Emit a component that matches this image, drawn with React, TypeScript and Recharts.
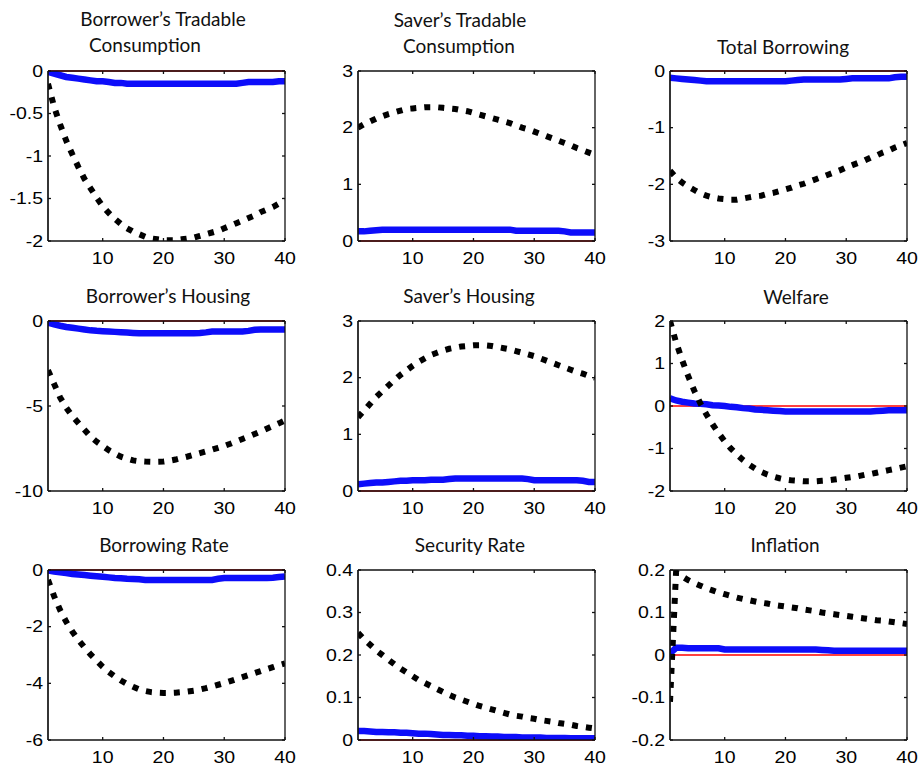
import React from 'react';
import { LineChart, Line, XAxis, YAxis, ReferenceLine } from 'recharts';

// ---------------- DATA ----------------
const periods = [
  1, 2, 3, 4, 5, 6, 7, 8, 9, 10,
  11, 12, 13, 14, 15, 16, 17, 18, 19, 20,
  21, 22, 23, 24, 25, 26, 27, 28, 29, 30,
  31, 32, 33, 34, 35, 36, 37, 38, 39, 40,
];
const xTicks = [10, 20, 30, 40];

// Borrower's Tradable Consumption
const btcSolid = [
  -0.01, -0.03, -0.05, -0.07, -0.08, -0.09, -0.10, -0.11, -0.12, -0.12,
  -0.13, -0.14, -0.14, -0.15, -0.15, -0.15, -0.15, -0.15, -0.15, -0.15,
  -0.15, -0.15, -0.15, -0.15, -0.15, -0.15, -0.15, -0.15, -0.15, -0.15,
  -0.15, -0.15, -0.14, -0.13, -0.13, -0.13, -0.13, -0.13, -0.12, -0.12,
];
const btcDotted = [
  -0.15, -0.42, -0.63, -0.82, -0.98, -1.13, -1.27, -1.38, -1.49, -1.59,
  -1.67, -1.74, -1.80, -1.85, -1.89, -1.92, -1.95, -1.97, -1.98, -1.99,
  -1.99, -1.99, -1.98, -1.97, -1.96, -1.94, -1.92, -1.90, -1.88, -1.85,
  -1.82, -1.79, -1.76, -1.73, -1.70, -1.66, -1.63, -1.60, -1.56, -1.52,
];
const btcTicks = [-2, -1.5, -1, -0.5, 0];

// Saver's Tradable Consumption
const stcSolid = [
  0.17, 0.17, 0.18, 0.19, 0.20, 0.20, 0.20, 0.20, 0.20, 0.20,
  0.20, 0.20, 0.20, 0.20, 0.20, 0.20, 0.20, 0.20, 0.20, 0.20,
  0.20, 0.20, 0.20, 0.20, 0.20, 0.20, 0.18, 0.18, 0.18, 0.18,
  0.18, 0.18, 0.18, 0.18, 0.17, 0.15, 0.15, 0.15, 0.15, 0.15,
];
const stcDotted = [
  2.00, 2.06, 2.11, 2.16, 2.20, 2.24, 2.27, 2.30, 2.33, 2.34,
  2.35, 2.36, 2.36, 2.36, 2.35, 2.34, 2.33, 2.31, 2.29, 2.26,
  2.23, 2.20, 2.17, 2.14, 2.11, 2.08, 2.04, 2.00, 1.97, 1.93,
  1.89, 1.85, 1.81, 1.77, 1.73, 1.69, 1.64, 1.60, 1.56, 1.52,
];
const stcTicks = [0, 1, 2, 3];

// Total Borrowing
const tbSolid = [
  -0.12, -0.13, -0.14, -0.15, -0.16, -0.17, -0.18, -0.18, -0.18, -0.18,
  -0.18, -0.18, -0.18, -0.18, -0.18, -0.18, -0.18, -0.18, -0.18, -0.18,
  -0.17, -0.16, -0.15, -0.15, -0.15, -0.15, -0.15, -0.15, -0.15, -0.14,
  -0.13, -0.13, -0.13, -0.13, -0.13, -0.13, -0.13, -0.11, -0.10, -0.10,
];
const tbDotted = [
  -1.76, -1.88, -1.97, -2.04, -2.10, -2.16, -2.20, -2.23, -2.25, -2.26,
  -2.27, -2.27, -2.25, -2.23, -2.21, -2.20, -2.17, -2.15, -2.12, -2.09,
  -2.06, -2.02, -1.99, -1.95, -1.91, -1.87, -1.83, -1.79, -1.75, -1.70,
  -1.66, -1.62, -1.58, -1.53, -1.49, -1.44, -1.40, -1.35, -1.31, -1.27,
];
const tbTicks = [-3, -2, -1, 0];

// Borrower's Housing
const bhSolid = [
  -0.10, -0.20, -0.28, -0.35, -0.40, -0.45, -0.50, -0.55, -0.58, -0.60,
  -0.62, -0.64, -0.66, -0.68, -0.70, -0.72, -0.72, -0.72, -0.72, -0.72,
  -0.72, -0.72, -0.72, -0.72, -0.72, -0.70, -0.67, -0.62, -0.62, -0.62,
  -0.62, -0.62, -0.62, -0.58, -0.52, -0.50, -0.50, -0.50, -0.50, -0.50,
];
const bhDotted = [
  -2.90, -3.70, -4.50, -5.10, -5.60, -6.00, -6.40, -6.80, -7.10, -7.35,
  -7.60, -7.80, -7.98, -8.10, -8.20, -8.25, -8.27, -8.28, -8.28, -8.27,
  -8.22, -8.15, -8.06, -7.97, -7.87, -7.77, -7.67, -7.57, -7.46, -7.35,
  -7.22, -7.08, -6.94, -6.80, -6.65, -6.50, -6.34, -6.18, -6.02, -5.85,
];
const bhTicks = [-10, -5, 0];

// Saver's Housing
const shSolid = [
  0.12, 0.13, 0.14, 0.15, 0.15, 0.16, 0.17, 0.18, 0.18, 0.19,
  0.19, 0.19, 0.20, 0.20, 0.20, 0.21, 0.22, 0.22, 0.22, 0.22,
  0.22, 0.22, 0.22, 0.22, 0.22, 0.22, 0.22, 0.22, 0.21, 0.19,
  0.19, 0.19, 0.19, 0.19, 0.19, 0.19, 0.19, 0.18, 0.16, 0.16,
];
const shDotted = [
  1.30, 1.42, 1.54, 1.66, 1.76, 1.86, 1.96, 2.05, 2.13, 2.21,
  2.28, 2.34, 2.40, 2.44, 2.48, 2.51, 2.53, 2.55, 2.56, 2.57,
  2.57, 2.57, 2.56, 2.54, 2.52, 2.50, 2.47, 2.44, 2.41, 2.38,
  2.34, 2.30, 2.26, 2.22, 2.18, 2.14, 2.10, 2.07, 2.03, 2.00,
];
const shTicks = [0, 1, 2, 3];

// Welfare
const wSolid = [
  0.18, 0.13, 0.10, 0.08, 0.06, 0.05, 0.04, 0.02, 0.01, 0.00,
  -0.02, -0.03, -0.05, -0.06, -0.08, -0.09, -0.10, -0.11, -0.12, -0.13,
  -0.13, -0.13, -0.13, -0.13, -0.13, -0.13, -0.13, -0.13, -0.13, -0.13,
  -0.13, -0.13, -0.13, -0.13, -0.12, -0.11, -0.10, -0.10, -0.10, -0.10,
];
const wDotted = [
  2.00, 1.50, 1.08, 0.70, 0.36, 0.06, -0.20, -0.43, -0.64, -0.83,
  -1.00, -1.14, -1.27, -1.38, -1.47, -1.55, -1.61, -1.66, -1.70, -1.73,
  -1.75, -1.76, -1.77, -1.77, -1.77, -1.76, -1.75, -1.73, -1.71, -1.69,
  -1.67, -1.65, -1.62, -1.60, -1.57, -1.54, -1.51, -1.48, -1.45, -1.42,
];
const wTicks = [-2, -1, 0, 1, 2];

// Borrowing Rate
const brSolid = [
  -0.02, -0.05, -0.08, -0.11, -0.14, -0.16, -0.18, -0.20, -0.22, -0.24,
  -0.26, -0.28, -0.29, -0.31, -0.32, -0.33, -0.35, -0.35, -0.35, -0.35,
  -0.35, -0.35, -0.35, -0.35, -0.35, -0.35, -0.35, -0.35, -0.31, -0.28,
  -0.28, -0.28, -0.28, -0.28, -0.28, -0.28, -0.28, -0.27, -0.25, -0.23,
];
const brDotted = [
  -0.35, -0.92, -1.42, -1.83, -2.17, -2.47, -2.73, -2.98, -3.20, -3.42,
  -3.60, -3.76, -3.90, -4.02, -4.12, -4.21, -4.27, -4.31, -4.33, -4.34,
  -4.34, -4.33, -4.31, -4.29, -4.26, -4.22, -4.17, -4.11, -4.05, -3.99,
  -3.92, -3.85, -3.78, -3.71, -3.64, -3.57, -3.50, -3.43, -3.36, -3.30,
];
const brTicks = [-6, -4, -2, 0];

// Security Rate
const srSolid = [
  0.021, 0.021, 0.020, 0.019, 0.019, 0.018, 0.018, 0.017, 0.017, 0.016,
  0.015, 0.015, 0.014, 0.013, 0.012, 0.012, 0.011, 0.011, 0.010, 0.010,
  0.009, 0.009, 0.008, 0.008, 0.007, 0.007, 0.007, 0.006, 0.006, 0.006,
  0.006, 0.005, 0.005, 0.005, 0.005, 0.004, 0.004, 0.004, 0.004, 0.004,
];
const srDotted = [
  0.252, 0.237, 0.224, 0.211, 0.200, 0.189, 0.178, 0.168, 0.159, 0.150,
  0.141, 0.134, 0.127, 0.120, 0.113, 0.106, 0.100, 0.095, 0.090, 0.085,
  0.080, 0.076, 0.072, 0.068, 0.064, 0.060, 0.057, 0.055, 0.052, 0.050,
  0.047, 0.045, 0.043, 0.040, 0.038, 0.036, 0.033, 0.031, 0.029, 0.027,
];
const srTicks = [0, 0.1, 0.2, 0.3, 0.4];

// Inflation
const infSolid = [
  0.004, 0.017, 0.017, 0.016, 0.016, 0.016, 0.016, 0.016, 0.016, 0.013,
  0.013, 0.013, 0.013, 0.013, 0.013, 0.013, 0.013, 0.013, 0.013, 0.013,
  0.013, 0.013, 0.013, 0.013, 0.013, 0.012, 0.011, 0.010, 0.010, 0.010,
  0.010, 0.010, 0.010, 0.010, 0.010, 0.010, 0.010, 0.010, 0.010, 0.010,
];
const infDotted = [
  -0.110, 0.195, 0.185, 0.176, 0.169, 0.163, 0.157, 0.152, 0.147, 0.143,
  0.139, 0.135, 0.132, 0.129, 0.126, 0.123, 0.121, 0.118, 0.116, 0.114,
  0.112, 0.110, 0.107, 0.105, 0.103, 0.100, 0.098, 0.096, 0.094, 0.092,
  0.090, 0.088, 0.086, 0.084, 0.082, 0.081, 0.079, 0.077, 0.075, 0.073,
];
const infTicks = [-0.2, -0.1, 0, 0.1, 0.2];

const titles = [
  ['Borrower\u2019s Tradable', 'Consumption'],
  ['Saver\u2019s Tradable', 'Consumption'],
  ['Total Borrowing'],
  ['Borrower\u2019s Housing'],
  ['Saver\u2019s Housing'],
  ['Welfare'],
  ['Borrowing Rate'],
  ['Security Rate'],
  ['Inflation'],
];
const solidSeries = [btcSolid, stcSolid, tbSolid, bhSolid, shSolid, wSolid, brSolid, srSolid, infSolid];
const dottedSeries = [btcDotted, stcDotted, tbDotted, bhDotted, shDotted, wDotted, brDotted, srDotted, infDotted];
const yTickSets = [btcTicks, stcTicks, tbTicks, bhTicks, shTicks, wTicks, brTicks, srTicks, infTicks];

// ---------------- LAYOUT / STYLE ----------------
const COL_LEFT = [48, 358, 670];
const ROW_TOP = [71, 321, 570];
const PLOT_W = 237;
const PLOT_H = 170;
// outer offsets from plot area to chart edges (each axis takes 1px of it)
const PAD = { top: 10, right: 12, bottom: 32, left: 48 };
const M = { top: PAD.top - 1, right: PAD.right - 1, bottom: PAD.bottom - 1, left: PAD.left - 1 };

// title line positions: [centerX, baselineY] per line
const TITLE_POS = [
  [[163, 26], [145, 52]],
  [[460, 27], [459, 53]],
  [[783, 54]],
  [[168, 303]],
  [[469, 303]],
  [[796, 304]],
  [[164, 552]],
  [[470, 552]],
  [[785, 552]],
];

const AXIS = '#111';
const TICK_FONT = '"Liberation Sans", Arial, sans-serif';
const TICK_SIZE = 16;
const TICK_STRETCH = 1.22;
const TITLE_FONT = 'Lato, "Open Sans", sans-serif';
const BLUE = '#0d0dfa';

const BottomTick = (props: any) => {
  const { x, y, payload } = props;
  return (
    <g>
      <line x1={x} y1={y} x2={x} y2={y - 3} stroke={AXIS} strokeWidth={1.3} />
      <text
        transform={`translate(${x},${y + 23}) scale(${TICK_STRETCH},1)`}
        textAnchor="middle"
        fontSize={TICK_SIZE}
        fontFamily={TICK_FONT}
        fill="#000"
      >
        {String(payload.value)}
      </text>
    </g>
  );
};
const LeftTick = (props: any) => {
  const { x, y, payload } = props;
  return (
    <g>
      <line x1={x} y1={y} x2={x + 3} y2={y} stroke={AXIS} strokeWidth={1.3} />
      <text
        transform={`translate(${x - 5},${y + 5.7}) scale(${TICK_STRETCH},1)`}
        textAnchor="end"
        fontSize={TICK_SIZE}
        fontFamily={TICK_FONT}
        fill="#000"
      >
        {String(payload.value)}
      </text>
    </g>
  );
};
const TopTick = (props: any) => {
  const { x, y } = props;
  return <line x1={x} y1={y} x2={x} y2={y + 3} stroke={AXIS} strokeWidth={1.3} />;
};
const RightTick = (props: any) => {
  const { x, y } = props;
  return <line x1={x} y1={y} x2={x - 3} y2={y} stroke={AXIS} strokeWidth={1.3} />;
};

const Panel = ({ idx }: { idx: number }) => {
  const col = idx % 3;
  const row = Math.floor(idx / 3);
  const ticks = yTickSets[idx];
  const domain = [ticks[0], ticks[ticks.length - 1]];
  const solid = solidSeries[idx];
  const dotted = dottedSeries[idx];
  const data = periods.map((t, i) => ({ t, solid: solid[i], dotted: dotted[i] }));
  const w = PAD.left + PLOT_W + PAD.right;
  const h = PAD.top + PLOT_H + PAD.bottom;
  return (
    <div style={{ position: 'absolute', left: COL_LEFT[col] - PAD.left, top: ROW_TOP[row] - PAD.top, width: w, height: h }}>
      <LineChart width={w} height={h} data={data} margin={M}>
        <XAxis
          dataKey="t"
          type="number"
          domain={[1, 40]}
          ticks={xTicks}
          interval={0}
          height={1}
          tickSize={0}
          tickMargin={0}
          tickLine={false}
          axisLine={{ stroke: AXIS, strokeWidth: 1.7 }}
          tick={<BottomTick />}
          allowDataOverflow
        />
        <XAxis
          xAxisId="top"
          orientation="top"
          dataKey="t"
          type="number"
          domain={[1, 40]}
          ticks={xTicks}
          interval={0}
          height={1}
          tickSize={0}
          tickMargin={0}
          tickLine={false}
          axisLine={{ stroke: AXIS, strokeWidth: 1.3 }}
          tick={<TopTick />}
          allowDataOverflow
        />
        <YAxis
          type="number"
          domain={domain}
          ticks={ticks}
          interval={0}
          width={1}
          tickSize={0}
          tickMargin={0}
          tickLine={false}
          axisLine={{ stroke: AXIS, strokeWidth: 1.7 }}
          tick={<LeftTick />}
          allowDataOverflow
        />
        <YAxis
          yAxisId="right"
          orientation="right"
          type="number"
          domain={domain}
          ticks={ticks}
          interval={0}
          width={1}
          tickSize={0}
          tickMargin={0}
          tickLine={false}
          axisLine={{ stroke: AXIS, strokeWidth: 1.3 }}
          tick={<RightTick />}
          allowDataOverflow
        />
        <ReferenceLine y={0} stroke="#ff0000" strokeWidth={1.3} ifOverflow="visible" />
        <Line
          type="linear"
          dataKey="solid"
          stroke={BLUE}
          strokeWidth={6.5}
          dot={false}
          activeDot={false}
          isAnimationActive={false}
        />
        <Line
          type="linear"
          dataKey="dotted"
          stroke="#000"
          strokeWidth={6}
          strokeDasharray="6 8"
          dot={false}
          activeDot={false}
          isAnimationActive={false}
        />
      </LineChart>
    </div>
  );
};

export default function App() {
  return (
    <div style={{ position: 'absolute', left: 0, top: 0, width: 920, height: 772, background: '#fff' }}>
      {titles.map((_, i) => (
        <Panel key={i} idx={i} />
      ))}
      <svg width={920} height={772} style={{ position: 'absolute', left: 0, top: 0, pointerEvents: 'none' }}>
        {titles.map((lines, i) =>
          lines.map((line, j) => (
            <text
              key={`${i}-${j}`}
              x={TITLE_POS[i][j][0]}
              y={TITLE_POS[i][j][1]}
              textAnchor="middle"
              fontSize={19}
              fontFamily={TITLE_FONT}
              fill="#111"
            >
              {line}
            </text>
          ))
        )}
      </svg>
    </div>
  );
}
